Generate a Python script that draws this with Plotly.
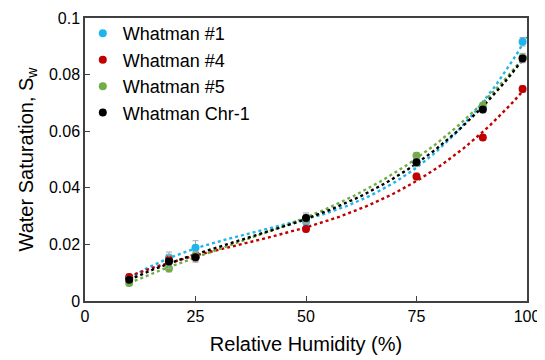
import numpy as np
import plotly.graph_objects as go

rh = [10, 19, 25, 50, 75, 90, 99]
series_names = ["Whatman #1", "Whatman #4", "Whatman #5", "Whatman Chr-1"]
sw_w1 = [0.0080, 0.0153, 0.0188, 0.0280, 0.0490, 0.0680, 0.0916]
sw_w4 = [0.0085, 0.0145, 0.0155, 0.0254, 0.0440, 0.0578, 0.0749]
sw_w5 = [0.0064, 0.0115, 0.0160, 0.0290, 0.0513, 0.0690, 0.0860]
sw_chr = [0.0075, 0.0140, 0.0155, 0.0293, 0.0490, 0.0677, 0.0857]
err_w1 = [0.0012, 0.0020, 0.0025, 0.0015, 0.0015, 0.0012, 0.0015]
err_w4 = [0.0010, 0.0012, 0.0015, 0.0010, 0.0012, 0.0010, 0.0012]
err_w5 = [0.0010, 0.0012, 0.0015, 0.0015, 0.0012, 0.0012, 0.0015]
err_chr = [0.0012, 0.0025, 0.0018, 0.0018, 0.0015, 0.0012, 0.0015]
colors = ["#1EB4EE", "#C00000", "#70AD47", "#000000"]

all_y = [sw_w1, sw_w4, sw_w5, sw_chr]
all_err = [err_w1, err_w4, err_w5, err_chr]

fig = go.Figure()
xfit = np.linspace(10, 100, 120)
for name, y, c in zip(series_names, all_y, colors):
    coef = np.polyfit(rh, y, 3)
    fig.add_trace(go.Scatter(x=xfit, y=np.polyval(coef, xfit), mode="lines",
                             line=dict(color=c, width=2.4, dash="dot"),
                             showlegend=False, hoverinfo="skip"))
for name, y, e, c in zip(series_names, all_y, all_err, colors):
    fig.add_trace(go.Scatter(x=rh, y=y, mode="markers", name=name, legendgroup=name,
                             marker=dict(color=c, size=8),
                             error_y=dict(type="data", array=e, color="#A6A6A6",
                                          thickness=1, width=3)))

axis_common = dict(showline=True, linecolor="#404040", linewidth=1.5, mirror=True,
                   ticks="inside", ticklen=5, tickcolor="#404040", showgrid=False,
                   zeroline=False, automargin=False,
                   tickfont=dict(size=16, color="#000000"))
fig.update_xaxes(range=[0, 100], tickvals=[0, 25, 50, 75, 100],
                 title=dict(text="Relative Humidity (%)", font=dict(size=20, color="#000"), standoff=13),
                 **axis_common)
fig.update_yaxes(range=[0, 0.1], tickvals=[0, 0.02, 0.04, 0.06, 0.08, 0.1],
                 ticktext=["0", "0.02", "0.04", "0.06", "0.08", "0.1"],
                 title=dict(text="Water Saturation, S<sub>w</sub>", font=dict(size=20, color="#000"), standoff=10),
                 **axis_common)
fig.update_layout(width=537, height=352, margin=dict(l=77, r=18, t=7, b=59),
                  plot_bgcolor="white", paper_bgcolor="white",
                  font=dict(family="Liberation Sans, Arial, sans-serif", color="#000"),
                  legend=dict(x=-0.005, y=1.01, xanchor="left", yanchor="top",
                              bgcolor="rgba(0,0,0,0)", font=dict(size=18),
                              itemwidth=30, tracegroupgap=0))
fig.write_html("out.html")
